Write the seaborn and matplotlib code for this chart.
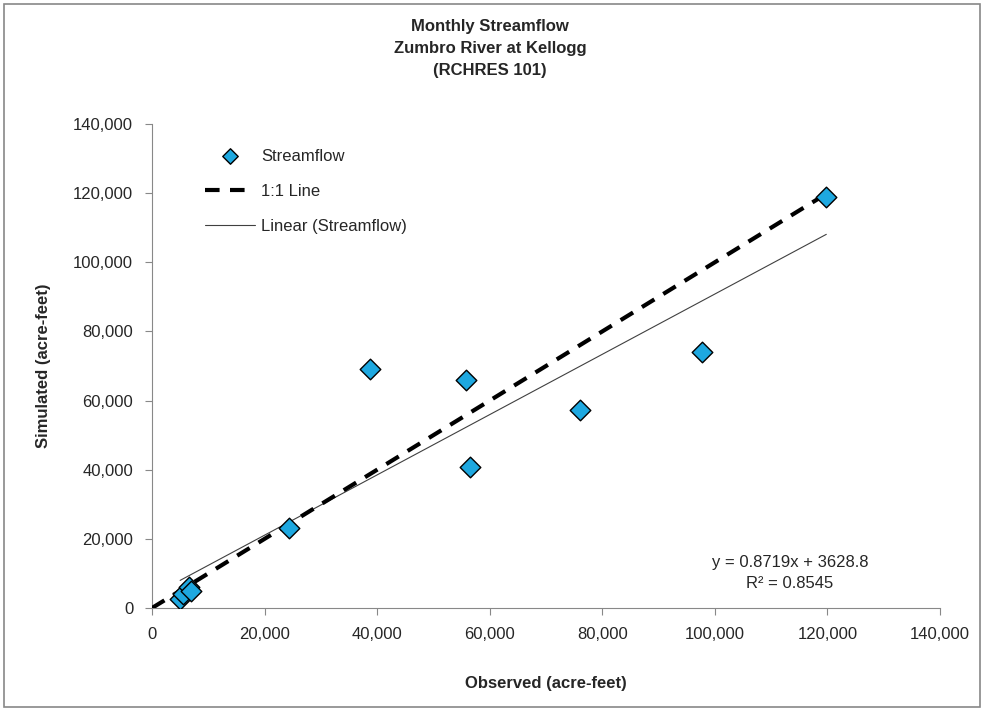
import numpy as np
import pandas as pd
import seaborn as sns
import matplotlib.pyplot as plt
from matplotlib.ticker import FuncFormatter
from matplotlib.patches import Rectangle

# monthly streamflow, acre-feet
observed = [5000, 5500, 6500, 7000, 24300, 38800, 55800, 56500, 76000, 97700, 119800]
simulated = [2700, 4000, 6000, 5000, 23200, 69000, 65900, 40700, 57400, 74000, 119000]
slope = 0.8719
intercept = 3628.8
r2 = 0.8545

df = pd.DataFrame({"Observed": observed, "Simulated": simulated})

sns.set_style("white")
plt.rcParams["font.family"] = ["Liberation Sans", "DejaVu Sans"]

fig = plt.figure(figsize=(9.84, 7.11), dpi=100)
ax = fig.add_axes([152 / 984, 1 - 608 / 711, (940 - 152) / 984, (608 - 124) / 711])

sns.scatterplot(data=df, x="Observed", y="Simulated", marker="D", s=110,
                color="#1EA8E0", edgecolor="black", linewidth=1.0,
                label="Streamflow", ax=ax, zorder=5)

one = np.array([0, 120000])
sns.lineplot(x=one, y=one, color="black", linewidth=3,
             label="1:1 Line", ax=ax, zorder=3)
ax.lines[-1].set_linestyle((0, (3.5, 2.5)))

xt = np.array([min(observed), max(observed)])
sns.lineplot(x=xt, y=slope * xt + intercept, color="#404040", linewidth=0.8,
             label="Linear (Streamflow)", ax=ax, zorder=2)

ax.set_xlim(0, 140000)
ax.set_ylim(0, 140000)
ax.set_xticks(range(0, 140001, 20000))
ax.set_yticks(range(0, 140001, 20000))
fmt = FuncFormatter(lambda v, p: f"{int(v):,}")
ax.xaxis.set_major_formatter(fmt)
ax.yaxis.set_major_formatter(fmt)
ax.tick_params(axis="both", labelsize=12, length=5, width=0.8, color="#888888",
               direction="out", bottom=True, left=True, pad=8.5)

for s in ["top", "right"]:
    ax.spines[s].set_visible(False)
for s in ["left", "bottom"]:
    ax.spines[s].set_color("#888888")
    ax.spines[s].set_linewidth(0.8)

ax.set_xlabel("Observed (acre-feet)", fontsize=12, fontweight="bold", labelpad=25)
ax.set_ylabel("Simulated (acre-feet)", fontsize=12, fontweight="bold", labelpad=16)

fig.text(490 / 984, 1 - 48.5 / 711, "Monthly Streamflow\nZumbro River at Kellogg\n(RCHRES 101)",
         ha="center", va="center", fontsize=12, fontweight="bold", linespacing=1.55)

ax.text(790 / 984, 1 - 562 / 711, f"y = {slope}x + {intercept}", transform=fig.transFigure,
        ha="center", va="center", fontsize=12)
ax.text(790 / 984, 1 - 583 / 711, f"R² = {r2}", transform=fig.transFigure,
        ha="center", va="center", fontsize=12)

leg = ax.legend(loc="upper left", bbox_to_anchor=(0.048, 0.98), frameon=False,
                fontsize=12, labelspacing=1.2, handlelength=3.0, handletextpad=0.4,
                markerscale=0.75)

fig.patches.append(Rectangle((4 / 984, 4 / 711), 976 / 984, 703 / 711, transform=fig.transFigure,
                             fill=False, edgecolor="#888888", linewidth=1.2))

fig.savefig("out.png", dpi=100)
